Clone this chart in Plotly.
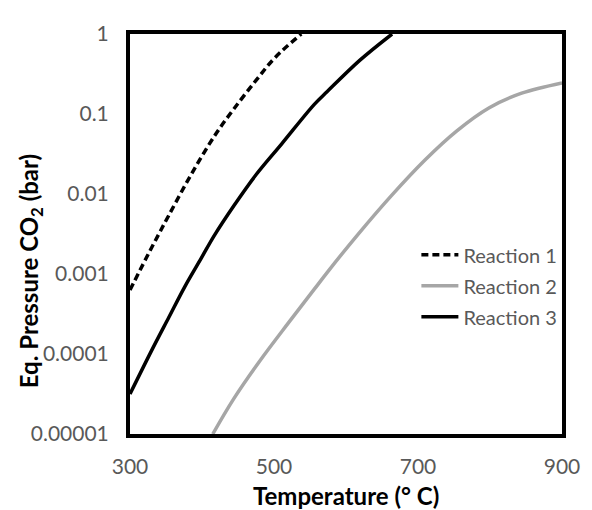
import plotly.graph_objects as go

# Reaction 1 (dashed black)
r1_temp = [300, 322, 340, 354, 376, 398, 421, 444, 475, 502, 538]
r1_pres = [6.31e-4, 1.55e-3, 3.16e-3, 5.43e-3, 0.0126, 0.0279, 0.0596, 0.115, 0.263, 0.513, 1.0]

# Reaction 2 (grey)
r2_temp = [415, 444, 480, 520, 556, 574, 617, 664, 709, 754, 799, 844, 900]
r2_pres = [1.0e-5, 2.75e-5, 8.13e-5, 2.45e-4, 6.46e-4, 1.05e-3, 3.16e-3, 9.77e-3, 0.0263, 0.0617, 0.120, 0.182, 0.245]

# Reaction 3 (solid black)
r3_temp = [300, 331, 354, 376, 399, 417, 444, 475, 511, 556, 574, 619, 664]
r3_pres = [3.16e-5, 1.15e-4, 2.88e-4, 6.92e-4, 1.58e-3, 3.02e-3, 7.08e-3, 0.0174, 0.0427, 0.132, 0.191, 0.468, 1.0]

x_ticks = [300, 500, 700, 900]
y_ticks = [1e-5, 1e-4, 1e-3, 1e-2, 1e-1, 1]
y_ticktext = ["0.00001", "0.0001", "0.001", "0.01", "0.1", "1"]

FONT = "Lato, Carlito, Calibri, sans-serif"
GREY_TXT = "#595959"

fig = go.Figure()
fig.add_trace(go.Scatter(x=r1_temp, y=r1_pres, mode="lines", name="Reaction 1",
                         line=dict(color="black", width=3.5, dash="7px,4px", shape="spline", smoothing=1.0),
                         legend="legend"))
fig.add_trace(go.Scatter(x=r2_temp, y=r2_pres, mode="lines", name="Reaction 2",
                         line=dict(color="#A6A6A6", width=3.5, shape="spline", smoothing=1.0),
                         legend="legend2"))
fig.add_trace(go.Scatter(x=r3_temp, y=r3_pres, mode="lines", name="Reaction 3",
                         line=dict(color="black", width=3.5, shape="spline", smoothing=1.0),
                         legend="legend3"))

# page has an 8px body margin; figure sized to fit window exactly
OFF = 8
PAGE_W, PAGE_H = 592, 510
W, H = PAGE_W - OFF, PAGE_H - OFF
PL, PR, PT, PB = 130, 575, 21, 434  # plot area in page pixels
L, R, T, B = PL - OFF, PAGE_W - PR, PT - OFF, PAGE_H - PB
pw, ph = PR - PL, PB - PT

def lx(px):
    return (px - PL) / pw

def ly(py):
    return 1 - (py - PT) / ph

leg_common = dict(xanchor="left", yanchor="middle", bgcolor="rgba(0,0,0,0)",
                  font=dict(family=FONT, size=20, color=GREY_TXT), itemwidth=37,
                  borderwidth=0, tracegroupgap=0)
fig.update_layout(
    legend=dict(x=lx(425), y=ly(249), **leg_common),
    legend2=dict(x=lx(425), y=ly(281), **leg_common),
    legend3=dict(x=lx(425), y=ly(313), **leg_common),
)

fig.update_layout(
    width=W, height=H,
    margin=dict(l=L, r=R, t=T, b=B),
    paper_bgcolor="white", plot_bgcolor="white",
    font=dict(family=FONT, size=21, color=GREY_TXT),
    showlegend=True,
)

fig.update_xaxes(range=[300, 900], tickvals=x_ticks, ticktext=[str(v) for v in x_ticks],
                 showgrid=False, zeroline=False, showline=True, linecolor="black", linewidth=4,
                 mirror=True, ticks="outside", ticklen=11, tickcolor="rgba(0,0,0,0)",
                 ticklabeloverflow="allow",
                 tickfont=dict(family=FONT, size=21, color=GREY_TXT))
fig.update_yaxes(type="log", range=[-5, 0], tickvals=y_ticks, ticktext=y_ticktext,
                 showgrid=False, zeroline=False, showline=True, linecolor="black", linewidth=4,
                 mirror=True, ticks="outside", ticklen=13, tickcolor="rgba(0,0,0,0)",
                 ticklabeloverflow="allow",
                 tickfont=dict(family=FONT, size=21, color=GREY_TXT))

fig.add_annotation(text="<b>Temperature (° C)</b>", xref="paper", yref="paper",
                   x=0.5, y=ly(497), xanchor="center", yanchor="middle", showarrow=False,
                   font=dict(family=FONT, size=24, color="black"))
fig.add_annotation(text="<b>Eq. Pressure CO<sub>2</sub> (bar)</b>", xref="paper", yref="paper",
                   x=lx(27), y=ly(266), xanchor="center", yanchor="middle", showarrow=False,
                   textangle=-90, font=dict(family=FONT, size=24, color="black"))

fig.write_html("out.html")
